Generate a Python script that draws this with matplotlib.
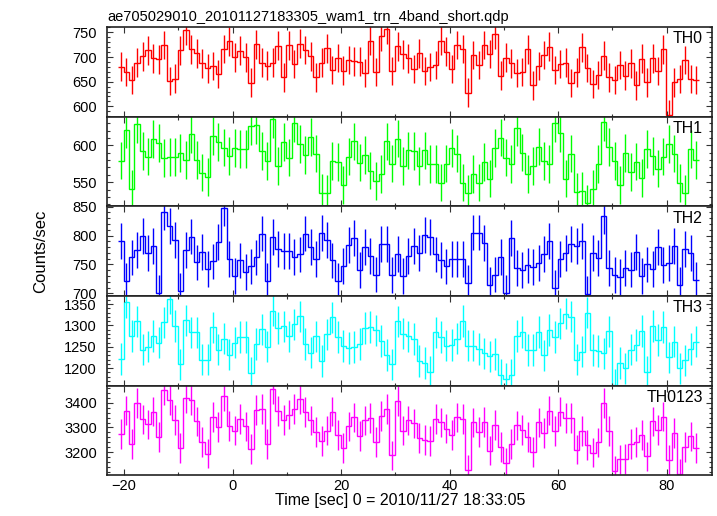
import numpy as np
import matplotlib as mpl
mpl.use("Agg")
import matplotlib.pyplot as plt
from matplotlib.ticker import MultipleLocator

plt.rcParams["font.family"] = ["Liberation Sans", "DejaVu Sans"]
plt.rcParams["font.size"] = 10.5

# bin centres [sec], 1 s bins
time = np.arange(107) - 20.6

th0 = [680.8, 669.4, 653.2, 688.8, 701.6, 713.7, 697.6, 695.6, 724.5, 651.2,
       655.9, 713.7, 754.0, 715.7, 707.7, 687.5, 676.8, 682.1, 665.3, 716.4,
       731.9, 699.6, 713.0, 699.6, 647.9, 725.8, 688.8, 682.8, 688.8, 723.1,
       658.6, 723.8, 686.2, 727.2, 714.4, 701.6, 658.6, 688.8, 717.7, 673.4,
       698.3, 672.7, 693.6, 691.5, 690.9, 667.3, 733.2, 670.0, 741.9, 756.0,
       671.4, 721.8, 705.6,
       697.6, 676.1, 707.7, 671.4, 679.4, 684.1, 733.2, 711.0, 675.4, 724.5,
       716.4, 627.7, 704.3, 684.1, 724.5, 706.3, 746.0, 662.0, 698.9, 687.5,
       667.3, 669.4, 715.7, 642.5, 682.1, 704.3, 721.1, 673.4, 686.2, 688.8,
       647.2, 668.7, 719.8, 677.4, 645.2, 663.3, 703.0, 658.6, 653.2, 683.5,
       662.0, 687.5, 642.5, 696.9, 648.6, 697.6, 671.4, 715.7, 583.3, 648.6,
       655.3, 693.6, 655.3, 653.2]

th1 = [579.3, 621.2, 541.4, 628.8, 592.3, 584.7, 608.6, 603.2, 582.9, 584.2,
       584.2, 589.6, 580.2, 615.3, 580.2, 563.1, 556.8, 612.6, 604.5, 596.8,
       585.6, 596.4, 594.6, 594.6, 625.7, 627.0, 592.3, 578.8, 635.6, 572.1,
       604.1, 583.3, 630.2, 601.8, 586.9, 611.3, 588.7, 536.0, 534.7, 578.4,
       577.5, 546.4, 584.7, 605.4, 576.6, 586.9, 565.8, 551.8, 561.3, 605.4,
       575.2, 609.0, 571.6,
       593.2, 592.3, 571.6, 593.2, 574.8, 574.8, 549.5, 575.2, 596.4, 588.7,
       549.5, 534.7, 560.8, 549.5, 577.5, 555.0, 596.0, 610.4, 583.3, 574.8,
       623.9, 590.1, 560.8, 571.6, 598.2, 578.8, 574.3, 630.2, 616.7, 555.0,
       588.7, 536.5, 538.3, 521.2, 541.4, 574.3, 632.0, 597.7, 578.8, 545.9,
       589.2, 564.0, 578.0, 555.9, 595.0, 585.6, 568.5, 584.7, 601.8, 588.8,
       549.1, 534.7, 594.6, 579.7]

th2 = [790.7, 721.5, 762.2, 774.4, 798.8, 769.2, 782.6, 700.0, 840.7, 816.9,
       791.9, 704.6, 774.4, 798.3, 753.5, 770.9, 741.9, 755.2, 789.5, 847.7,
       759.3, 730.2, 757.0, 737.2, 746.5, 762.2, 803.5, 722.1, 797.1, 777.3,
       772.7, 772.7, 763.4, 767.4, 803.5, 780.2, 759.9, 804.7, 792.4, 757.0,
       722.1, 747.7, 783.1, 796.5, 740.7, 780.8, 765.1, 732.6, 784.9, 784.9,
       732.0, 768.6, 729.7,
       765.1, 781.4, 770.3, 800.6, 797.1, 767.4, 757.6, 746.5, 759.9, 759.9,
       759.9, 718.0, 805.2, 805.2, 787.8, 715.1, 732.6, 763.4, 700.6, 795.3,
       744.2, 740.1, 748.3, 745.9, 752.9, 768.6, 790.7, 709.3, 759.3, 769.2,
       786.0, 782.6, 790.1, 698.8, 769.2, 761.6, 833.7, 744.2, 731.4, 728.5,
       744.2, 741.3, 770.9, 729.7, 750.0, 741.9, 779.7, 748.8, 752.3, 781.4,
       714.0, 776.7, 770.3, 723.3]

th3 = [1222.1, 1355.1, 1274.8, 1309.5, 1243.4, 1250.4, 1275.6, 1259.9, 1307.1, 1363.0,
       1298.5, 1208.7, 1311.8, 1283.5, 1283.5, 1219.8, 1219.8, 1295.3, 1243.4, 1269.3,
       1231.6, 1259.9, 1273.3, 1273.3, 1189.1, 1256.7, 1290.6, 1250.4, 1334.7, 1293.7,
       1297.7, 1274.1, 1302.4, 1321.3, 1256.0, 1236.3, 1274.1, 1217.4, 1278.8, 1318.9,
       1272.5, 1251.2, 1246.5, 1248.9, 1256.7, 1293.7, 1296.1, 1288.2, 1263.0, 1230.8,
       1208.7, 1309.5, 1281.1,
       1274.1, 1267.8, 1216.6, 1211.9, 1191.4, 1283.5, 1272.5, 1252.8, 1254.4, 1269.3,
       1311.0, 1252.8, 1252.8, 1244.9, 1234.7, 1227.6, 1233.1, 1185.1, 1175.7, 1184.4,
       1274.8, 1285.1, 1242.6, 1241.8, 1284.3, 1230.0, 1289.8, 1272.5, 1304.7, 1327.6,
       1320.5, 1219.8, 1238.7, 1329.9, 1242.6, 1240.2, 1234.7, 1285.9, 1161.6, 1211.9,
       1199.3, 1243.4, 1254.4, 1287.4, 1190.6, 1299.2, 1265.4, 1296.9, 1225.3, 1262.2,
       1199.3, 1218.2, 1244.9, 1262.2]

th0123 = [3272.8, 3368.2, 3233.1, 3400.0, 3332.5, 3312.6, 3364.2, 3260.9, 3451.7, 3411.9,
          3329.8, 3218.5, 3417.2, 3410.6, 3324.5, 3242.4, 3194.7, 3341.7, 3300.7, 3427.8,
          3307.3, 3287.4, 3335.1, 3304.6, 3211.9, 3370.9, 3374.8, 3233.1, 3454.3, 3365.6,
          3331.1, 3352.3, 3373.5, 3414.6, 3361.6, 3328.5, 3282.1, 3245.0, 3287.4, 3364.2,
          3268.9, 3217.2, 3304.6, 3340.4, 3264.9, 3328.5, 3337.7, 3242.4, 3345.7, 3374.8,
          3186.8, 3406.6, 3287.4,
          3328.5, 3316.6, 3257.0, 3250.3, 3245.0, 3335.1, 3320.5, 3295.4, 3268.9, 3340.4,
          3335.1, 3128.5, 3320.5, 3280.8, 3323.2, 3206.6, 3309.9, 3219.9, 3156.3, 3234.4,
          3308.6, 3288.7, 3262.3, 3201.3, 3320.5, 3278.1, 3368.2, 3284.8, 3364.2, 3337.7,
          3337.7, 3210.6, 3284.8, 3230.5, 3198.7, 3239.7, 3398.7, 3284.8, 3125.8, 3170.9,
          3172.2, 3233.1, 3241.1, 3268.9, 3182.8, 3324.5, 3290.1, 3344.4, 3168.2, 3276.8,
          3113.9, 3219.9, 3263.6, 3218.5]

# typical error bar half-length per band
errs = [29, 25.5, 31, 37, 60]

names = ["TH0", "TH1", "TH2", "TH3", "TH0123"]
series = [th0, th1, th2, th3, th0123]
colors = ["#ff0000", "#00ff00", "#0000ff", "#00ffff", "#ff00ff"]
ylims = [(579, 761), (517.2, 638.8), (695.3, 850.5), (1158.7, 1368.7), (3106, 3468.5)]
ymaj = [50, 50, 50, 50, 100]
ymin = [10, 10, 10, 10, 20]

fig, axes = plt.subplots(5, 1, sharex=True, figsize=(7.17, 5.16), dpi=100)
plt.subplots_adjust(left=0.1488, right=0.9926, top=0.9477, bottom=0.0785, hspace=0)

edges = np.append(time - 0.5, time[-1] + 0.5)
for i, ax in enumerate(axes):
    v = np.array(series[i])
    ax.stairs(v, edges, baseline=None, color=colors[i], linewidth=1.0)
    ax.errorbar(time, v, yerr=errs[i], fmt="none", ecolor=colors[i],
                elinewidth=1.0, capsize=0)
    ax.set_ylim(*ylims[i])
    ax.set_xlim(-23.2, 88.3)
    ax.yaxis.set_major_locator(MultipleLocator(ymaj[i]))
    ax.yaxis.set_minor_locator(MultipleLocator(ymin[i]))
    ax.xaxis.set_major_locator(MultipleLocator(20))
    ax.xaxis.set_minor_locator(MultipleLocator(10))
    ax.tick_params(which="both", direction="in", top=True, right=True,
                   width=0.8, color="#333333", labelsize=10.5)
    ax.tick_params(which="major", length=4.3)
    ax.tick_params(which="minor", length=2.2)
    ax.tick_params(axis="y", pad=7)
    ax.tick_params(axis="x", pad=2.5)
    for s in ax.spines.values():
        s.set_linewidth(1.2)
        s.set_color("#222222")
    ax.text(0.9856, 0.819, names[i], transform=ax.transAxes, ha="right",
            va="baseline", fontsize=11.4)

fig.text(107.3 / 717, 1 - 20.5 / 516, "ae705029010_20101127183305_wam1_trn_4band_short.qdp",
         ha="left", va="baseline", fontsize=10.5)
fig.text(400 / 717, 1 - 505.3 / 516, "Time [sec] 0 = 2010/11/27 18:33:05",
         ha="center", va="baseline", fontsize=11.5)
fig.text(41 / 717, 1 - 251.5 / 516, "Counts/sec", rotation=90,
         ha="center", va="center", fontsize=12)

plt.savefig("out.png", dpi=100)
